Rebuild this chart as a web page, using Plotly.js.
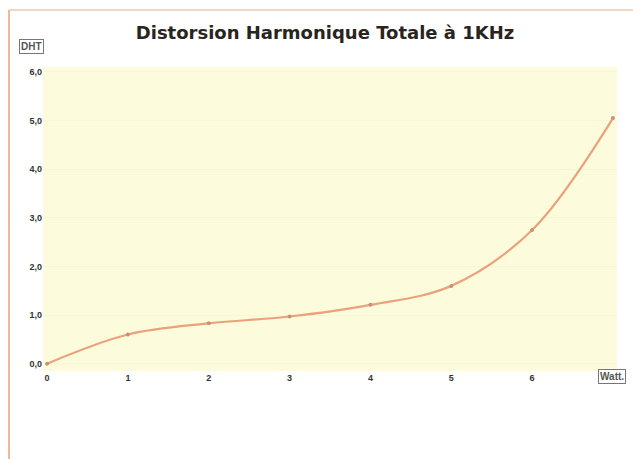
<!DOCTYPE html>
<html>
<head>
<meta charset="utf-8">
<script src="https://cdn.plot.ly/plotly-3.0.1.min.js"></script>
<style>
html,body{margin:0;padding:0;background:#fff;}
#chart{width:633px;height:459px;}
</style>
</head>
<body>
<div id="chart"></div>
<script>
// Data
const puissanceWatt = [0, 1, 2, 3, 4, 5, 6, 7];
const dhtValues = [0.0, 0.6, 0.83, 0.97, 1.21, 1.6, 2.75, 5.05];
const xTickVals = [0, 1, 2, 3, 4, 5, 6];
const xTickText = ["0", "1", "2", "3", "4", "5", "6"];
const yTickVals = [0, 1, 2, 3, 4, 5, 6];
const yTickText = ["0,0", "1,0", "2,0", "3,0", "4,0", "5,0", "6,0"];

const trace = {
  x: puissanceWatt,
  y: dhtValues,
  type: 'scatter',
  mode: 'lines+markers',
  line: {shape: 'spline', smoothing: 1, color: '#eba27a', width: 2.2},
  marker: {size: 4, color: '#c9907a'},
  hoverinfo: 'x+y'
};

const L = 43, R = 16, T = 67, B = 88;
const W = 633, H = 459;
const pw = W - L - R, ph = H - T - B;
function px2x(p){ return (p - L) / pw; }
function py2y(p){ return (H - B - p) / ph; }

const layout = {
  width: W, height: H,
  margin: {l: L, r: R, t: T, b: B, pad: 0},
  paper_bgcolor: '#ffffff',
  plot_bgcolor: '#fcfcdd',
  showlegend: false,
  title: {
    text: 'Distorsion Harmonique Totale à 1KHz',
    font: {family: 'DejaVu Sans, sans-serif', size: 18, color: '#2a2420', weight: 'bold'},
    x: 325 / W, xanchor: 'center', y: 1 - 33/H, yanchor: 'middle'
  },
  xaxis: {
    range: [-0.05, 7.05],
    tickvals: xTickVals, ticktext: xTickText,
    tickfont: {family: 'Liberation Sans, Arial, sans-serif', size: 9, color: '#333333', weight: 'bold'},
    showgrid: false, zeroline: false, showline: false, ticks: ''
  },
  yaxis: {
    range: [-0.15, 6.1],
    tickvals: yTickVals, ticktext: yTickText,
    tickfont: {family: 'Liberation Sans, Arial, sans-serif', size: 9, color: '#333333', weight: 'bold'},
    showgrid: true, gridcolor: 'rgba(240,240,205,0.5)', zeroline: false, showline: false, ticks: ''
  },
  shapes: [
    {type: 'line', xref: 'paper', yref: 'paper', x0: px2x(9), x1: px2x(9), y0: py2y(10), y1: py2y(459), line: {color: '#f0b896', width: 2}},
    {type: 'line', xref: 'paper', yref: 'paper', x0: px2x(9), x1: px2x(633), y0: py2y(10), y1: py2y(10), line: {color: '#f0c8b0', width: 1.5}}
  ],
  annotations: [
    {text: '<b>DHT</b>', xref: 'paper', yref: 'paper', x: px2x(31), y: py2y(47), xanchor: 'center', yanchor: 'middle', showarrow: false,
     font: {family: 'Liberation Sans, Arial, sans-serif', size: 10, color: '#555555'}, bordercolor: '#777777', borderwidth: 1, borderpad: 1, bgcolor: '#ffffff'},
    {text: '<b>Watt.</b>', xref: 'paper', yref: 'paper', x: px2x(598), y: py2y(377), xanchor: 'left', yanchor: 'middle', showarrow: false,
     font: {family: 'Liberation Sans, Arial, sans-serif', size: 10, color: '#555555'}, bordercolor: '#777777', borderwidth: 1, borderpad: 1, bgcolor: '#ffffff'}
  ]
};

Plotly.newPlot('chart', [trace], layout, {displayModeBar: false, staticPlot: true});
</script>
</body>
</html>
